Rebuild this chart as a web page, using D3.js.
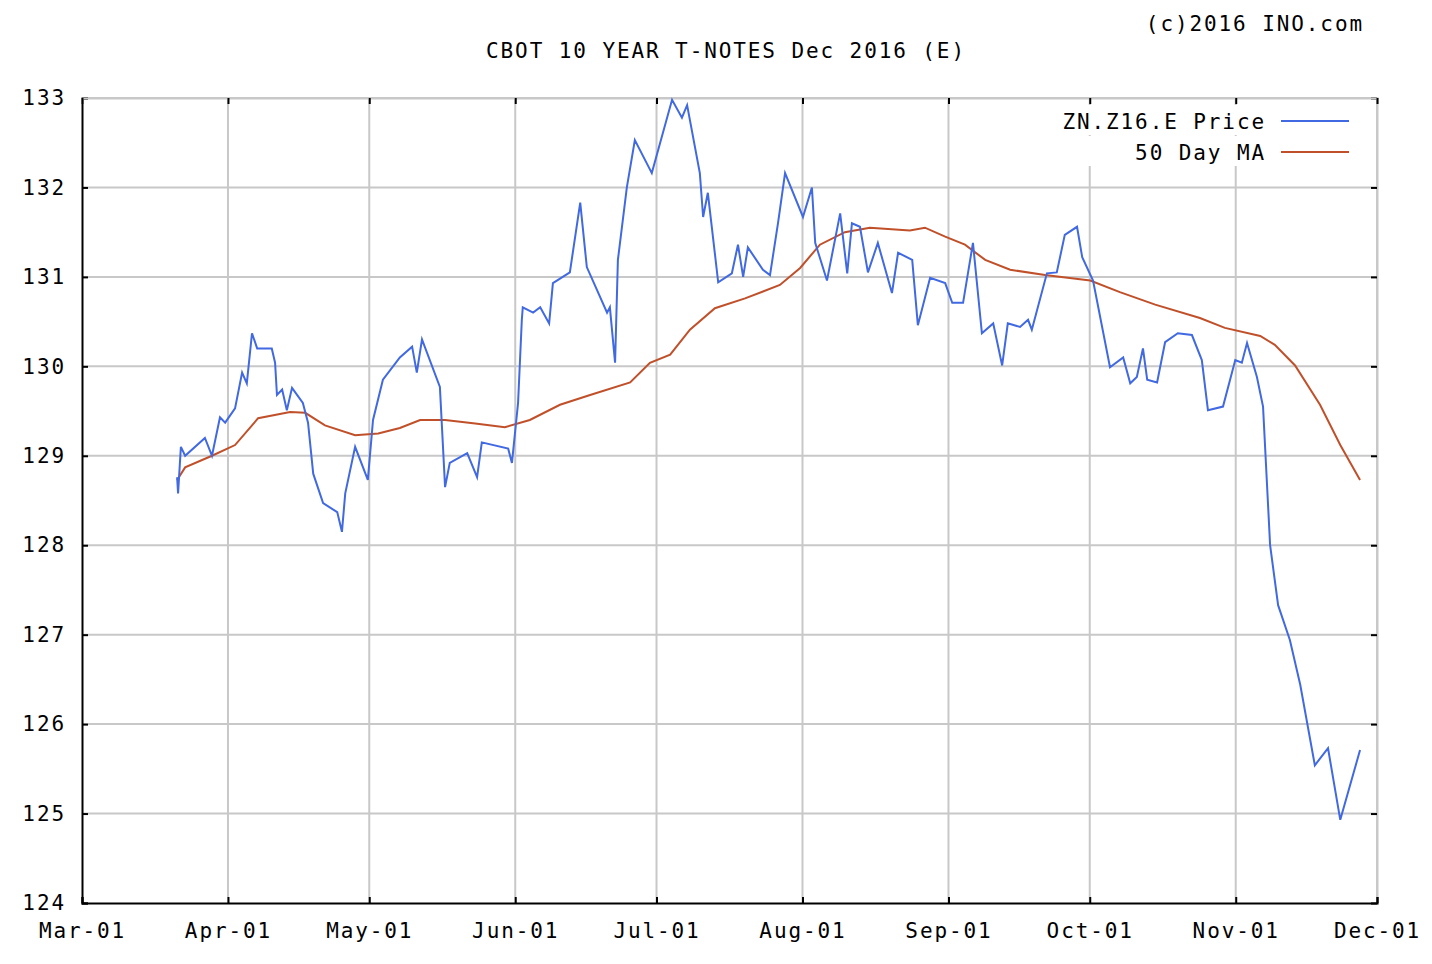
<!DOCTYPE html>
<html><head><meta charset="utf-8">
<script src="https://cdn.jsdelivr.net/npm/d3@7"></script>
<style>body{margin:0;background:#fff}text{font-family:"DejaVu Sans Mono",monospace;fill:#000;letter-spacing:1.9px}</style>
</head><body>
<script>
//days after 2016-03-01 and prices
var priceDays = [20.2,20.4,21.0,21.9,26.1,27.6,29.3,30.4,32.5,34.0,35.0,36.1,37.2,40.3,41.0,41.4,42.5,43.5,44.6,46.9,48.0,49.1,51.2,54.2,55.2,55.9,58.0,60.7,61.8,63.9,67.5,70.1,71.1,72.2,76.0,77.1,78.1,81.8,83.9,84.9,90.5,91.3,92.6,93.4,93.6,95.8,97.3,99.2,100.0,103.6,105.8,107.2,111.5,112.1,113.2,113.8,115.7,117.4,121.0,125.3,127.4,128.5,131.2,131.9,132.9,135.1,138.0,139.3,140.4,141.4,144.6,146.1,147.8,149.3,153.1,155.0,155.7,158.2,161.0,162.5,163.5,165.2,166.9,169.0,172.0,173.3,176.3,177.5,180.1,183.3,184.8,187.1,189.2,191.1,193.5,195.4,196.6,199.2,200.9,201.7,204.9,207.0,208.7,211.3,212.4,214.7,218.3,221.1,222.6,224.0,225.3,226.2,228.3,230.0,232.7,235.7,237.8,239.1,242.3,244.9,246.3,247.4,249.5,250.8,252.3,254.0,256.5,258.7,261.8,264.6,267.2,271.4];
var prices = [128.76,128.58,129.1,129.0,129.2,129.0,129.43,129.37,129.53,129.93,129.81,130.37,130.2,130.2,130.04,129.68,129.74,129.51,129.76,129.59,129.37,128.8,128.47,128.37,128.15,128.58,129.1,128.73,129.4,129.85,130.1,130.22,129.93,130.3,129.77,128.65,128.92,129.03,128.76,129.15,129.08,128.92,129.59,130.52,130.66,130.6,130.66,130.48,130.93,131.05,131.83,131.11,130.6,130.66,130.04,131.19,132.0,132.53,132.16,132.98,132.78,132.92,132.16,131.67,131.94,130.94,131.04,131.36,131.0,131.33,131.08,131.02,131.6,132.16,131.67,132.0,131.38,130.96,131.71,131.04,131.6,131.56,131.05,131.38,130.82,131.27,131.19,130.46,130.99,130.93,130.71,130.71,131.38,130.37,130.48,130.01,130.48,130.44,130.52,130.41,131.04,131.05,131.47,131.56,131.22,130.96,129.99,130.1,129.81,129.88,130.2,129.85,129.82,130.27,130.37,130.35,130.07,129.51,129.55,130.07,130.04,130.26,129.88,129.55,128.0,127.33,126.94,126.44,125.54,125.73,124.93,125.71];
var maDays = [20.2,21.9,27.6,32.5,37.4,44.2,47.4,51.6,58.0,62.9,67.5,71.8,77.1,83.5,89.8,95.1,101.5,107.9,116.4,120.6,124.9,129.1,134.4,140.8,148.2,152.5,156.7,162.0,167.3,175.8,179.0,183.3,187.5,191.8,197.1,204.5,214.1,220.4,227.9,237.4,242.7,250.2,253.3,257.6,262.9,267.2,271.4];
var maValues = [128.73,128.87,129.0,129.12,129.42,129.49,129.48,129.34,129.23,129.25,129.31,129.4,129.4,129.36,129.32,129.4,129.57,129.68,129.82,130.04,130.13,130.41,130.65,130.76,130.91,131.1,131.36,131.5,131.55,131.52,131.55,131.45,131.36,131.19,131.08,131.02,130.96,130.83,130.69,130.54,130.43,130.34,130.24,130.01,129.57,129.12,128.73];
var yTicks = [124,125,126,127,128,129,130,131,132,133];
var monthLabels = ["Mar-01","Apr-01","May-01","Jun-01","Jul-01","Aug-01","Sep-01","Oct-01","Nov-01","Dec-01"];

var W = 1432, H = 964, plotL = 82, plotR = 1377, plotT = 98, plotB = 903;
var start = new Date(2016, 2, 1);
function dayDate(d){ return new Date(start.getTime() + d * 864e5); }
var monthDates = monthLabels.map(function(m, i){ return new Date(2016, 2 + i, 1); });

var x = d3.scaleTime().domain([start, new Date(2016, 11, 1)]).range([plotL, plotR]);
var y = d3.scaleLinear().domain([124, 133]).range([plotB, plotT]);

var svg = d3.select("body").append("svg").attr("width", W).attr("height", H);

//grid
svg.selectAll(".gy").data(yTicks.slice(1)).enter().append("line")
  .attr("x1", plotL).attr("x2", plotR).attr("y1", y).attr("y2", y)
  .attr("stroke", "#c8c8c8").attr("stroke-width", 2);
svg.selectAll(".gx").data(monthDates.slice(1)).enter().append("line")
  .attr("x1", x).attr("x2", x).attr("y1", plotT).attr("y2", plotB)
  .attr("stroke", "#c8c8c8").attr("stroke-width", 2);

//axes
var yAxis = svg.append("g").attr("transform", "translate(" + plotL + ",0)")
  .call(d3.axisLeft(y).tickValues(yTicks).tickSize(-6).tickPadding(16));
var yAxisR = svg.append("g").attr("transform", "translate(" + plotR + ",0)")
  .call(d3.axisRight(y).tickValues(yTicks).tickSize(-6).tickFormat(""));
var xAxis = svg.append("g").attr("transform", "translate(0," + plotB + ")")
  .call(d3.axisBottom(x).tickValues(monthDates).tickSize(-6).tickPadding(20)
    .tickFormat(function(d, i){ return monthLabels[i]; }));
var xAxisT = svg.append("g").attr("transform", "translate(0," + plotT + ")")
  .call(d3.axisTop(x).tickValues(monthDates).tickSize(-6).tickFormat(""));
[yAxis, yAxisR, xAxis, xAxisT].forEach(function(g){
  g.selectAll("line").attr("stroke", "#000").attr("stroke-width", 2);
  g.selectAll("text").style("font-size", "21px").attr("font-family", null);
});
yAxis.select(".domain").attr("stroke", "#000").attr("stroke-width", 2);
xAxis.select(".domain").attr("stroke", "#000").attr("stroke-width", 2);
yAxisR.select(".domain").attr("stroke", "#c8c8c8").attr("stroke-width", 2);
xAxisT.select(".domain").attr("stroke", "#c8c8c8").attr("stroke-width", 2);

//lines
var line = d3.line().x(function(d){ return x(dayDate(d[0])); }).y(function(d){ return y(d[1]); });
svg.append("path").datum(maDays.map(function(d, i){ return [d, maValues[i]]; }))
  .attr("d", line).attr("fill", "none").attr("stroke", "#c0502a").attr("stroke-width", 2);
svg.append("path").datum(priceDays.map(function(d, i){ return [d, prices[i]]; }))
  .attr("d", line).attr("fill", "none").attr("stroke", "#4169e1").attr("stroke-width", 2);

//titles
svg.append("text").attr("x", 726).attr("y", 58).attr("text-anchor", "middle")
  .style("font-size", "21px").text("CBOT 10 YEAR T-NOTES Dec 2016 (E)");
svg.append("text").attr("x", 1364).attr("y", 31).attr("text-anchor", "end")
  .style("font-size", "21px").text("(c)2016 INO.com");

//legend
var legend = [["ZN.Z16.E Price", "#4169e1"], ["50 Day MA", "#c0502a"]];
legend.forEach(function(l, i){
  var ly = 121 + i * 31;
  svg.append("rect").attr("x", 1050).attr("y", ly - 16).attr("width", 310).attr("height", 30).attr("fill", "#fff");
  svg.append("text").attr("x", 1266).attr("y", ly + 8).attr("text-anchor", "end")
    .style("font-size", "21px").text(l[0]);
  svg.append("line").attr("x1", 1281).attr("x2", 1349).attr("y1", ly).attr("y2", ly)
    .attr("stroke", l[1]).attr("stroke-width", 2);
});
</script>
</body></html>
